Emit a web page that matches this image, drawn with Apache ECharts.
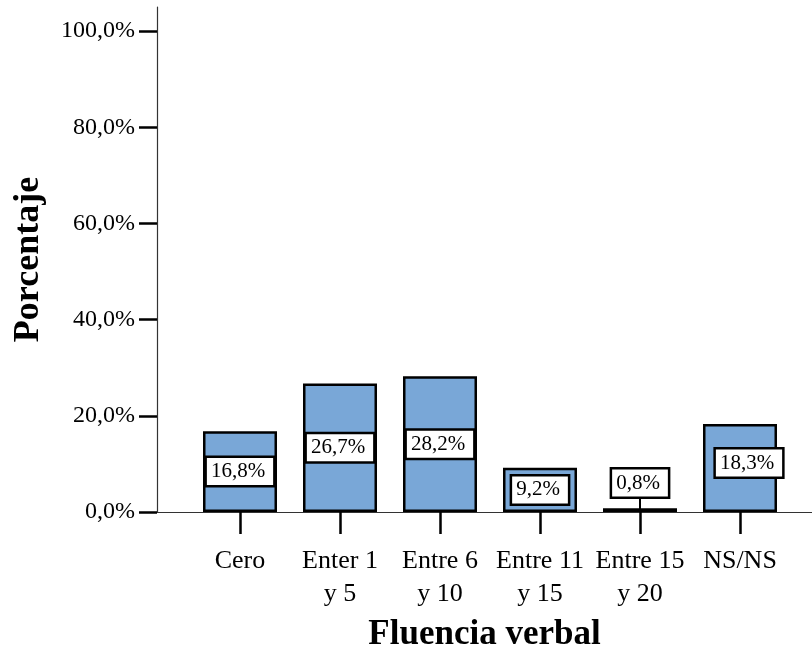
<!DOCTYPE html>
<html>
<head>
<meta charset="utf-8">
<script src="https://cdn.jsdelivr.net/npm/echarts@6/dist/echarts.min.js"></script>
<style>
html,body{margin:0;padding:0;background:#fff}
#main{width:812px;height:647px}
</style>
</head>
<body>
<div id="main"></div>
<script>
// Fluencia verbal - porcentajes
var categories = ['Cero', 'Enter 1\ny 5', 'Entre 6\ny 10', 'Entre 11\ny 15', 'Entre 15\ny 20', 'NS/NS'];
var percentages = [16.8, 26.7, 28.2, 9.2, 0.8, 18.3];
var yTicks = [0, 20, 40, 60, 80, 100];
var catPositions = [0, 1, 2, 3, 4, 5];

var serif = '"Liberation Serif", "Times New Roman", serif';

function fmt(v){
	return v.toFixed(1).replace('.', ',') + '%';
}

var barData = percentages.map(function(v, i){
	var item = {value: [catPositions[i], v]};
	if (v < 3) {
		// barra muy baja: etiqueta desplazada hacia arriba, con línea guía
		item.labelLine = {show: true, lineStyle: {color: '#000', width: 2}};
	}
	return item;
});

var myChart = echarts.init(document.getElementById('main'));
var option = {
	backgroundColor: '#fff',
	animation: false,
	grid: {left: 157, right: 0, top: 7, bottom: 135, outerBoundsMode: 'none', containLabel: false},
	xAxis: {
		type: 'value',
		min: -0.83,
		max: 5.72,
		name: 'Fluencia verbal',
		nameLocation: 'middle',
		nameGap: 105,
		nameTextStyle: {fontFamily: serif, fontWeight: 'bold', fontSize: 35, color: '#000'},
		splitLine: {show: false},
		axisLine: {lineStyle: {color: '#333', width: 1.2}},
		axisTick: {
			customValues: catPositions,
			length: 22,
			inside: false,
			lineStyle: {color: '#000', width: 2.5}
		},
		axisLabel: {
			customValues: catPositions,
			margin: 33,
			fontFamily: serif,
			fontSize: 26,
			lineHeight: 33,
			color: '#000',
			formatter: function(v){ return categories[Math.round(v)]; }
		}
	},
	yAxis: {
		type: 'value',
		min: 0,
		max: 105,
		name: 'Porcentaje',
		nameLocation: 'middle',
		nameGap: 110,
		nameRotate: 90,
		nameTextStyle: {fontFamily: serif, fontWeight: 'bold', fontSize: 36, color: '#000'},
		splitLine: {show: false},
		axisLine: {show: true, onZero: false, lineStyle: {color: '#333', width: 1.2}},
		axisTick: {
			show: true,
			customValues: yTicks,
			length: 18,
			lineStyle: {color: '#000', width: 2.5}
		},
		axisLabel: {
			customValues: yTicks,
			margin: 22,
			fontFamily: serif,
			fontSize: 24,
			color: '#000',
			formatter: function(v){ return fmt(v); }
		}
	},
	series: [{
		type: 'bar',
		barWidth: 74,
		data: barData,
		itemStyle: {color: '#79A7D7', borderColor: '#000', borderWidth: 2.5},
		labelLayout: function(params){
			if (percentages[params.dataIndex] < 3) {
				return {dy: -27};
			}
			if (params.dataIndex === categories.length - 1) {
				// la etiqueta de NS/NS sobresale un poco a la derecha
				return {dx: 9, dy: -5};
			}
			return {};
		},
		label: {
			show: true,
			position: 'inside',
			formatter: function(p){ return fmt(p.value[1]); },
			fontFamily: serif,
			fontSize: 21,
			color: '#000',
			backgroundColor: '#fff',
			borderColor: '#000',
			borderWidth: 2.5,
			padding: [4, 8, 2, 4]
		}
	}]
};
myChart.setOption(option);
</script>
</body>
</html>
